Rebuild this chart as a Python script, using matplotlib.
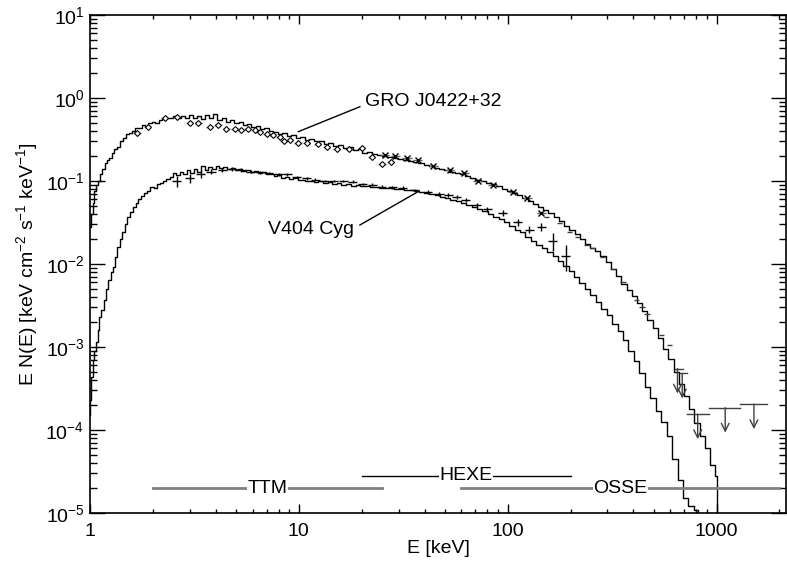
import numpy as np
import matplotlib
matplotlib.use("Agg")
import matplotlib.pyplot as plt
from matplotlib.ticker import LogLocator, FixedLocator, FuncFormatter, NullFormatter

plt.rcParams["font.family"] = ["Liberation Sans", "DejaVu Sans"]
plt.rcParams["mathtext.fontset"] = "custom"
plt.rcParams["mathtext.rm"] = "Liberation Sans"
plt.rcParams["mathtext.it"] = "Liberation Sans:italic"

# model spectra (step histograms), energy [keV] / E N(E)
gro_e = [1.00, 1.02, 1.04, 1.06, 1.08, 1.10, 1.13, 1.16, 1.19, 1.22, 1.25, 1.29, 1.33, 1.37,
         1.41, 1.46, 1.51, 1.56, 1.62, 1.68, 1.74, 1.80, 1.87, 1.94, 2.01, 2.09, 2.17, 2.26,
         2.35, 2.45, 2.55, 2.66, 2.78, 2.90, 3.03, 3.17, 3.32, 3.47, 3.63, 3.80, 3.98, 4.17,
         4.37, 4.58, 4.80, 5.03, 5.27, 5.52, 5.79, 6.07, 6.37, 6.68, 7.01, 7.36, 7.73, 8.12,
         8.53, 8.96, 9.41, 9.88, 10.4, 10.9, 11.5, 12.1, 12.8, 13.5, 14.2, 15.0, 15.8, 16.7,
         17.6, 18.6, 19.6, 20.7, 21.9, 23.1, 24.4, 25.8, 27.3, 28.9, 30.6, 32.4, 34.3, 36.3,
         38.4, 40.7, 43.1, 45.6, 48.3, 51.1, 54.1, 57.3, 60.7, 64.3, 68.1, 72.1, 76.4, 80.9,
         85.7, 90.8, 96.2, 102, 108, 114, 121, 128, 136, 144, 152, 161, 171, 181, 192, 203,
         215, 228, 241, 255, 270, 286, 303, 321, 340, 360, 381, 404, 428, 453, 480, 508, 538,
         570, 604, 640, 678, 718, 760, 805, 853, 903, 957, 1000, 1014]
gro_f = [0.028, 0.040, 0.055, 0.075, 0.090, 0.100, 0.12, 0.14, 0.165, 0.178, 0.19, 0.22, 0.24, 0.26,
         0.30, 0.33, 0.37, 0.38, 0.40, 0.43, 0.44, 0.47, 0.46, 0.50, 0.52, 0.50, 0.55, 0.56,
         0.58, 0.57, 0.60, 0.58, 0.61, 0.57, 0.62, 0.58, 0.60, 0.56, 0.63, 0.58, 0.64, 0.55,
         0.57, 0.52, 0.54, 0.50, 0.51, 0.47, 0.49, 0.45, 0.46, 0.42, 0.43, 0.40, 0.39, 0.37,
         0.38, 0.35, 0.36, 0.33, 0.34, 0.31, 0.32, 0.30, 0.30, 0.28, 0.285, 0.265, 0.27, 0.25,
         0.255, 0.235, 0.24, 0.22, 0.225, 0.21, 0.205, 0.20, 0.195, 0.19, 0.185, 0.18, 0.175, 0.168,
         0.163, 0.155, 0.150, 0.145, 0.140, 0.135, 0.130, 0.125, 0.120, 0.116, 0.110, 0.104, 0.100, 0.095,
         0.091, 0.086, 0.081, 0.075, 0.071, 0.067, 0.063, 0.058, 0.053, 0.049, 0.045, 0.041, 0.037, 0.033, 0.029, 0.026,
         0.023, 0.020, 0.0175, 0.0155, 0.0145, 0.0125, 0.0105, 0.0088, 0.0072, 0.0058, 0.0049, 0.0041, 0.0034, 0.0027, 0.0021, 0.0017, 0.0013,
         0.00095, 0.00072, 0.00050, 0.00036, 0.00026, 0.00018, 0.00012, 0.000085, 0.000060, 0.000038, 0.000028, 1e-6]

v404_e = [1.00, 1.01, 1.02, 1.04, 1.06, 1.08, 1.10, 1.12, 1.15, 1.18, 1.21, 1.24, 1.27, 1.30,
          1.33, 1.37, 1.41, 1.45, 1.49, 1.53, 1.58, 1.63, 1.68, 1.73, 1.79, 1.85, 1.91, 1.98,
          2.05, 2.12, 2.20, 2.28, 2.36, 2.45, 2.54, 2.64, 2.74, 2.85, 2.96, 3.08, 3.20, 3.33,
          3.47, 3.61, 3.76, 3.92, 4.08, 4.25, 4.43, 4.62, 4.82, 5.03, 5.25, 5.48, 5.72, 5.97,
          6.23, 6.50, 6.79, 7.09, 7.40, 7.73, 8.07, 8.43, 8.81, 9.21, 9.63, 10.1, 10.5, 11.0,
          11.6, 12.1, 12.7, 13.4, 14.1, 14.8, 15.6, 16.4, 17.3, 18.2, 19.2, 20.2, 21.3, 22.4,
          23.6, 24.9, 26.3, 27.8, 29.3, 31.0, 32.7, 34.6, 36.6, 38.7, 41.0, 43.4, 46.0, 48.7,
          51.6, 54.7, 58.0, 61.5, 65.2, 69.2, 73.4, 77.9, 82.6, 87.7, 93.1, 98.8, 105, 111,
          118, 125, 133, 141, 150, 159, 169, 179, 190, 202, 214, 227, 241, 256, 272, 289, 307,
          326, 346, 367, 390, 414, 440, 467, 496, 527, 560, 594, 631, 670, 711, 755, 802, 830]
v404_f = [0.00015, 0.00023, 0.00044, 0.0007, 0.0009, 0.00115, 0.0016, 0.0023, 0.0028, 0.0037, 0.0050, 0.0065, 0.0080, 0.0091,
          0.0120, 0.016, 0.020, 0.024, 0.030, 0.037, 0.042, 0.048, 0.055, 0.060, 0.066, 0.072, 0.076, 0.085,
          0.083, 0.092, 0.095, 0.100, 0.105, 0.112, 0.125, 0.118, 0.128, 0.122, 0.134, 0.125, 0.140, 0.130,
          0.150, 0.135, 0.148, 0.140, 0.150, 0.142, 0.148, 0.140, 0.145, 0.137, 0.140, 0.133, 0.136, 0.128,
          0.132, 0.125, 0.128, 0.120, 0.122, 0.115, 0.117, 0.110, 0.112, 0.106, 0.108, 0.102, 0.104, 0.099,
          0.101, 0.097, 0.099, 0.095, 0.097, 0.093, 0.094, 0.090, 0.091, 0.088, 0.089, 0.086, 0.087, 0.084,
          0.085, 0.083, 0.083, 0.082, 0.081, 0.080, 0.078, 0.077, 0.075, 0.073, 0.071, 0.069, 0.067, 0.064,
          0.062, 0.059, 0.057, 0.054, 0.051, 0.048, 0.046, 0.043, 0.040, 0.037, 0.035, 0.032, 0.029, 0.026,
          0.024, 0.021, 0.019, 0.017, 0.0155, 0.014, 0.0125, 0.011, 0.0095, 0.0082, 0.0069, 0.0059, 0.0050, 0.0042, 0.0035, 0.0029, 0.0024,
          0.0019, 0.00155, 0.00120, 0.00090, 0.00068, 0.00048, 0.00033, 0.00024, 0.00017, 0.000125, 0.000085, 0.000045, 0.000025, 0.000015, 0.000012, 0.000011, 1e-6]

# GRO J0422+32 data: TTM (diamonds), HEXE (x), OSSE (dashes), OSSE upper limits
gro_ttm_e = [1.68, 1.89, 2.28, 2.6, 3.0, 3.3, 3.75, 4.1, 4.5, 4.95, 5.3, 5.7, 6.2, 6.5, 7.0,
             7.5, 8.1, 8.5, 9.06, 9.9, 10.9, 12.3, 13.6, 15.2, 17.3, 20.0, 22.3, 25.0, 27.5]
gro_ttm_f = [0.38, 0.45, 0.57, 0.59, 0.50, 0.50, 0.45, 0.47, 0.42, 0.42, 0.41, 0.42, 0.41, 0.39, 0.37,
             0.36, 0.34, 0.30, 0.31, 0.29, 0.29, 0.28, 0.26, 0.245, 0.24, 0.25, 0.195, 0.16, 0.17]
gro_hexe_e = [25.8, 29, 33, 37, 44, 52.7, 62, 72, 85, 106, 124, 145]
gro_hexe_f = [0.205, 0.20, 0.19, 0.18, 0.15, 0.135, 0.125, 0.10, 0.089, 0.074, 0.062, 0.041]
gro_osse_e = [153, 177, 198, 216, 240, 255, 285, 317, 356, 415, 440, 465, 545, 595]
gro_osse_f = [0.037, 0.031, 0.024, 0.021, 0.017, 0.0155, 0.012, 0.0086, 0.006, 0.0037, 0.0030, 0.0025, 0.0014, 0.00107]
ul_e = [650, 685, 812, 1100, 1510]
ul_lo = [630, 670, 720, 920, 1300]
ul_hi = [690, 720, 920, 1300, 1750]
ul_f = [5.5e-4, 4.8e-4, 1.55e-4, 1.86e-4, 2.05e-4]

# V404 Cyg data
v404_e_pts = [2.6, 3.0, 3.4, 3.8, 4.3, 4.8, 5.3, 5.9, 6.5, 7.2, 8.0, 8.8, 9.8, 10.9, 12.0, 13.3,
              14.7, 16.3, 18.1, 20.2, 22.5, 25, 28, 31.5, 36, 41.5, 47, 52, 57, 63, 71, 80,
              95, 112, 127, 145, 164, 190]
v404_f_pts = [0.10, 0.108, 0.12, 0.13, 0.135, 0.14, 0.135, 0.13, 0.128, 0.125, 0.12, 0.12, 0.112,
              0.108, 0.104, 0.10, 0.10, 0.10, 0.098, 0.092, 0.09, 0.085, 0.084, 0.083, 0.078, 0.074,
              0.07, 0.068, 0.064, 0.059, 0.051, 0.046, 0.041, 0.032, 0.026, 0.028, 0.019, 0.0125]
v404_rel_err = [0.15, 0.12, 0.10, 0.06, 0.05, 0.05, 0.05, 0.04, 0.04, 0.04, 0.04, 0.04, 0.04,
                0.04, 0.04, 0.04, 0.04, 0.04, 0.04, 0.04, 0.04, 0.04, 0.04, 0.04, 0.04, 0.05,
                0.05, 0.05, 0.05, 0.06, 0.06, 0.07, 0.08, 0.10, 0.10, 0.12, 0.25, 0.35]

# instrument energy ranges
instr_names = ["TTM", "HEXE", "OSSE"]
instr_lo = [2, 20, 60]
instr_hi = [25, 200, 2000]
instr_y = [2e-5, 2.8e-5, 2e-5]
instr_col = ["#808080", "black", "#808080"]
instr_lw = [2.0, 1.0, 2.0]

fig = plt.figure(figsize=(7.87, 5.67), dpi=100)
ax = fig.add_axes([90 / 787, 1 - 513 / 567, 696 / 787, 498 / 567])
ax.set_xscale("log")
ax.set_yscale("log")

ax.plot(gro_e, gro_f, drawstyle="steps-mid", color="black", lw=1.0)
ax.plot(v404_e, v404_f, drawstyle="steps-mid", color="black", lw=1.0)

err_c = "#606060"
e = np.array(gro_ttm_e)
ax.errorbar(e, gro_ttm_f, xerr=[e * 0.04, e * 0.04], fmt="D", ms=3.0, mfc="white",
            mec="black", mew=0.8, ecolor=err_c, elinewidth=1.0, capsize=0)
e = np.array(gro_hexe_e)
ax.errorbar(e, gro_hexe_f, xerr=[e * 0.05, e * 0.05], fmt="x", ms=5, mec="black",
            mew=1.0, ecolor=err_c, elinewidth=1.0, capsize=0)
e = np.array(gro_osse_e)
ax.errorbar(e, gro_osse_f, xerr=[e * 0.03, e * 0.03], fmt="none", ecolor="#404040",
            elinewidth=1.0, capsize=0)
for xe, lo, hi, f in zip(ul_e, ul_lo, ul_hi, ul_f):
    ax.plot([lo, hi], [f, f], color="#404040", lw=1.0)
    ax.annotate("", xy=(xe, f * 0.5), xytext=(xe, f),
                arrowprops=dict(arrowstyle="->", color="#404040", lw=1.0,
                                shrinkA=0, shrinkB=0, mutation_scale=14))

e = np.array(v404_e_pts)
fv = np.array(v404_f_pts)
rv = np.array(v404_rel_err)
ax.errorbar(e, fv, xerr=[e * 0.05, e * 0.05], yerr=[fv * rv, fv * rv], fmt="none",
            ecolor="black", elinewidth=1.0, capsize=0)

for name, lo, hi, y, c, lw in zip(instr_names, instr_lo, instr_hi, instr_y, instr_col, instr_lw):
    ax.plot([lo, hi], [y, y], color=c, lw=lw)
    ax.text(np.sqrt(lo * hi), y, name, ha="center", va="center", fontsize=14,
            bbox=dict(facecolor="white", edgecolor="none", pad=0.5))

# source labels with leader lines
ax.plot([19.6, 9.94], [0.785, 0.393], color="black", lw=1.0)
ax.text(20.7, 0.9, "GRO J0422+32", fontsize=14, va="center", ha="left")
ax.plot([19.6, 37.2], [0.0295, 0.0743], color="black", lw=1.0)
ax.text(7.1, 0.0257, "V404 Cyg", fontsize=14, va="center", ha="left")

ax.set_xlim(1, 2150)
ax.set_ylim(1e-5, 10)

ax.xaxis.set_major_locator(FixedLocator([1, 10, 100, 1000]))
ax.xaxis.set_major_formatter(FuncFormatter(lambda v, p: f"{v:g}"))
ax.xaxis.set_minor_locator(LogLocator(base=10, subs=np.arange(2, 10), numticks=20))
ax.xaxis.set_minor_formatter(NullFormatter())
ax.yaxis.set_major_locator(LogLocator(base=10, numticks=20))
ax.yaxis.set_minor_locator(LogLocator(base=10, subs=np.arange(2, 10), numticks=20))
ax.yaxis.set_minor_formatter(NullFormatter())

ax.tick_params(which="both", direction="in", top=True, right=True, labelsize=14, width=1.0)
ax.tick_params(axis="y", which="major", length=10.8, pad=4)
ax.tick_params(axis="y", which="minor", length=5)
ax.tick_params(axis="x", which="major", length=6.5, pad=7)
ax.tick_params(axis="x", which="minor", length=3.0)
for s in ax.spines.values():
    s.set_linewidth(1.2)

ax.set_xlabel("E [keV]", fontsize=14, labelpad=0)
ax.set_ylabel(r"E N(E) [keV cm$^{-2}$ s$^{-1}$ keV$^{-1}$]", fontsize=14, labelpad=4)

fig.savefig("out.png", dpi=100)
